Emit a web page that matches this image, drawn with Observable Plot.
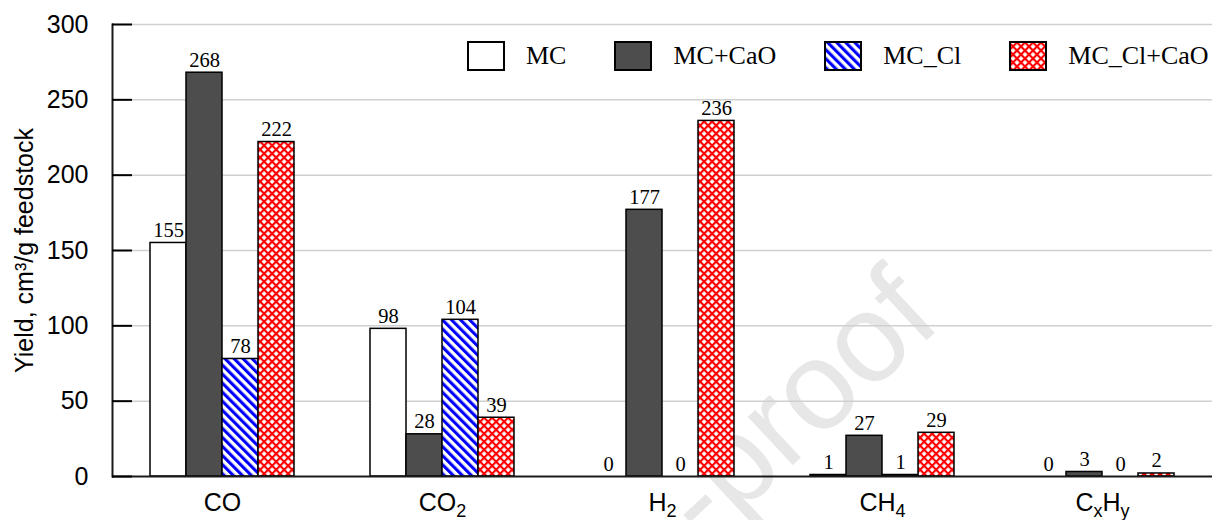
<!DOCTYPE html>
<html>
<head>
<meta charset="utf-8">
<script src="https://cdn.jsdelivr.net/npm/d3@7"></script>
<script src="https://cdn.jsdelivr.net/npm/@observablehq/plot@0.6"></script>
<style>
  html, body { margin: 0; padding: 0; background: #ffffff; }
  #wrap { position: relative; width: 1212px; height: 520px; overflow: hidden; background: #ffffff; }
  #wm { position: absolute; left: 0; top: 0; z-index: 0; }
  #chart { position: absolute; left: 0; top: 0; z-index: 1; }
  #legend { position: absolute; left: 467px; top: 41px; z-index: 2; display: flex; align-items: center;
            font-family: "Liberation Serif", "Times New Roman", serif; font-size: 26px; color: #000; }
  .item { display: flex; align-items: center; margin-right: 48px; height: 30px; }
  .item svg { display: block; margin-right: 21px; }
  .item span { line-height: 30px; white-space: nowrap; }
</style>
</head>
<body>
<svg width="0" height="0" style="position:absolute">
  <defs>
    <pattern id="stripes" patternUnits="userSpaceOnUse" width="6.4" height="6.4" patternTransform="rotate(-45)">
      <rect width="6.4" height="6.4" fill="#ffffff"></rect>
      <rect width="3.1" height="6.4" fill="#0000ff"></rect>
    </pattern>
    <pattern id="hatch" patternUnits="userSpaceOnUse" width="5.66" height="5.66" patternTransform="rotate(45)">
      <rect width="5.66" height="5.66" fill="#ffffff"></rect>
      <rect width="5.66" height="2.1" fill="#ff0000"></rect>
      <rect width="2.1" height="5.66" fill="#ff0000"></rect>
    </pattern>
  </defs>
</svg>
<div id="wrap">
  <svg id="wm" width="1212" height="520">
    <text x="944" y="324" text-anchor="end" transform="rotate(-43 944 324)"
          font-family="Liberation Sans, Arial, sans-serif" font-size="125" fill="#e7e7e7">-proof</text>
  </svg>
  <div id="chart"></div>
  <div id="legend"></div>
</div>
<script>
// ---- data ----
const gases = ["CO", "CO2", "H2", "CH4", "CxHy"];
const series = ["MC", "MC+CaO", "MC_Cl", "MC_Cl+CaO"];
const MC        = [155, 98, 0, 1, 0];
const MC_CaO    = [268, 28, 177, 27, 3];
const MC_Cl     = [78, 104, 0, 1, 0];
const MC_Cl_CaO = [222, 39, 236, 29, 2];
const yTicks = [0, 50, 100, 150, 200, 250, 300];
const fills = ["#ffffff", "#4d4d4d", "url(#stripes)", "url(#hatch)"];

const valuesBySeries = [MC, MC_CaO, MC_Cl, MC_Cl_CaO];
const data = gases.flatMap((g, i) => series.map((s, j) => ({gas: g, series: s, value: valuesBySeries[j][i]})));

const plot = Plot.plot({
  width: 1212,
  height: 520,
  marginLeft: 112,
  marginRight: 0,
  marginTop: 24,
  marginBottom: 44,
  style: {background: "transparent", fontFamily: "Liberation Sans, Arial, sans-serif", color: "#000"},
  fx: {domain: gases, padding: 0, label: null},
  x: {domain: series, paddingInner: 0, paddingOuter: 1, axis: null},
  y: {domain: [0, 300]},
  color: {type: "ordinal", domain: series, range: fills},
  marks: [
    Plot.ruleY(yTicks.slice(1), {stroke: "#d0d0d0", strokeWidth: 1.5}),
    Plot.barY(data, {fx: "gas", x: "series", y: "value", fill: "series", stroke: "#000", strokeWidth: 1.5}),
    Plot.text(data, {fx: "gas", x: "series", y: "value", text: d => String(d.value),
      lineAnchor: "bottom", dy: -6, fontFamily: "Liberation Serif, Times New Roman, serif", fontSize: 20.5, fill: "#000"}),
    Plot.ruleY([0], {stroke: "#1a1a1a", strokeWidth: 2}),
    Plot.frame({anchor: "left", facetAnchor: "left", stroke: "#1a1a1a", strokeWidth: 2}),
    Plot.axisY({ticks: yTicks, tickSize: -20, tickPadding: 44, fontSize: 25, strokeWidth: 2,
      label: "Yield, cm³/g feedstock", labelAnchor: "center", labelOffset: 97, labelArrow: "none"}),
    Plot.axisFx({anchor: "bottom", tickSize: 0, tickPadding: 17, fontSize: 25, label: null})
  ]
});
document.getElementById("chart").appendChild(plot);

// subscripts in the gas labels
const svgNS = "http://www.w3.org/2000/svg";
plot.querySelectorAll('[aria-label="fx-axis tick label"] text').forEach(t => {
  const parts = t.textContent.match(/[A-Z]+|[0-9a-z]+/g) || [];
  t.textContent = "";
  parts.forEach(p => {
    const ts = document.createElementNS(svgNS, "tspan");
    ts.textContent = p;
    if (!/^[A-Z]/.test(p)) {
      ts.setAttribute("baseline-shift", "-6");
      ts.setAttribute("font-size", "18");
    }
    t.appendChild(ts);
  });
});

// legend
const legend = document.getElementById("legend");
series.forEach((s, j) => {
  const item = document.createElement("div");
  item.className = "item";
  item.innerHTML = `<svg width="38" height="30"><rect x="1" y="1" width="36" height="28" fill="${fills[j]}" stroke="#000" stroke-width="2"></rect></svg><span>${s}</span>`;
  legend.appendChild(item);
});
</script>
</body>
</html>
